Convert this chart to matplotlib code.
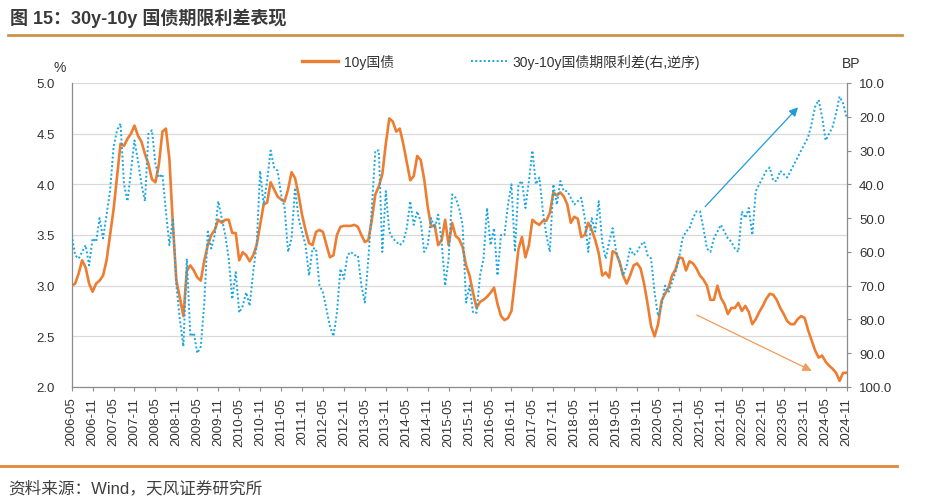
import numpy as np
import pandas as pd
import matplotlib
matplotlib.use("Agg")
import matplotlib.pyplot as plt
from matplotlib.lines import Line2D
from matplotlib.ticker import FormatStrFormatter

plt.rcParams["font.family"] = ["Liberation Sans", "Noto Sans CJK SC"]
plt.rcParams["axes.unicode_minus"] = False

# monthly readings, 2006-05 .. 2024-11
start_month = "2006-05"

# 10y government bond yield (%), left axis
yield_10y = [
    3.00, 3.02, 3.12, 3.25, 3.18, 3.02, 2.94, 3.02,                          # 2006
    3.05, 3.10, 3.25, 3.50, 3.75, 4.08, 4.40, 4.38, 4.45, 4.50, 4.58, 4.48,  # 2007
    4.42, 4.30, 4.20, 4.05, 4.02, 4.20, 4.52, 4.55, 4.25, 3.60, 3.05, 2.88,  # 2008
    2.70, 3.15, 3.20, 3.15, 3.08, 3.05, 3.25, 3.40, 3.50, 3.55, 3.65, 3.62,  # 2009
    3.65, 3.65, 3.52, 3.52, 3.25, 3.33, 3.30, 3.24, 3.30, 3.40, 3.60, 3.80,  # 2010
    3.82, 4.02, 3.95, 3.88, 3.85, 3.83, 3.95, 4.12, 4.06, 3.90, 3.70, 3.55,  # 2011
    3.42, 3.40, 3.53, 3.55, 3.53, 3.40, 3.28, 3.30, 3.50, 3.58, 3.59, 3.59,  # 2012
    3.59, 3.60, 3.58, 3.50, 3.43, 3.45, 3.65, 3.90, 3.98, 4.10, 4.40, 4.65,  # 2013
    4.62, 4.52, 4.55, 4.40, 4.22, 4.04, 4.08, 4.28, 4.24, 4.05, 3.78, 3.58,  # 2014
    3.60, 3.40, 3.45, 3.65, 3.40, 3.62, 3.49, 3.46, 3.38, 3.20, 3.10, 2.93,  # 2015
    2.78, 2.84, 2.86, 2.89, 2.93, 2.98, 2.82, 2.70, 2.66, 2.68, 2.75, 3.05,  # 2016
    3.36, 3.48, 3.28, 3.40, 3.65, 3.62, 3.60, 3.64, 3.64, 3.72, 3.92, 3.89,  # 2017
    3.92, 3.88, 3.80, 3.62, 3.68, 3.66, 3.48, 3.50, 3.62, 3.55, 3.45, 3.32,  # 2018
    3.10, 3.13, 3.08, 3.34, 3.32, 3.23, 3.10, 3.02, 3.10, 3.20, 3.22, 3.17,  # 2019
    3.02, 2.82, 2.60, 2.50, 2.62, 2.85, 2.92, 2.98, 3.10, 3.16, 3.28, 3.27,  # 2020
    3.15, 3.24, 3.22, 3.17, 3.10, 3.06, 3.00, 2.86, 2.86, 3.00, 2.88, 2.82,  # 2021
    2.72, 2.78, 2.78, 2.83, 2.75, 2.80, 2.74, 2.62, 2.67, 2.74, 2.80, 2.87,  # 2022
    2.92, 2.91, 2.86, 2.78, 2.72, 2.65, 2.62, 2.62, 2.67, 2.70, 2.68, 2.56,  # 2023
    2.46, 2.36, 2.29, 2.31, 2.25, 2.21, 2.18, 2.14, 2.06, 2.14, 2.14,        # 2024
]

# 30y-10y term spread (BP), right axis, inverted
spread_30_10 = [
    55, 61, 62, 60, 58, 64, 56, 57,                  # 2006
    50, 56, 49, 42, 29, 24, 22, 40, 45, 36, 27, 33,  # 2007
    40, 45, 25, 24, 34, 38, 37, 48, 58, 50, 70, 80,  # 2008
    88, 62, 85, 84, 90, 88, 75, 54, 59, 55, 45, 50,  # 2009
    55, 62, 74, 66, 78, 76, 72, 76, 66, 58, 36, 46,  # 2010
    39, 30, 35, 36, 43, 47, 60, 56, 41, 50, 54, 58,  # 2011
    67, 59, 59, 70, 72, 77, 82, 85, 78, 65, 68, 61,  # 2012
    60, 61, 61, 70, 75, 62, 47, 30, 30, 60, 42, 54,  # 2013
    56, 57, 58, 57, 53, 45, 52, 48, 51, 60, 58, 50,  # 2014
    53, 49, 57, 70, 62, 43, 44, 47, 52, 75, 70, 78,  # 2015
    78, 67, 62, 47, 58, 53, 67, 55, 55, 46, 40, 60,  # 2016
    40, 39, 47, 39, 30, 40, 38, 48, 55, 60, 40, 46,  # 2017
    39, 42, 42, 44, 46, 45, 44, 50, 60, 50, 54, 45,  # 2018
    57, 62, 57, 53, 60, 63, 67, 64, 59, 61, 60, 58,  # 2019
    57, 61, 62, 72, 79, 76, 70, 72, 69, 66, 62, 56,  # 2020
    54, 53, 50, 48, 48, 53, 59, 60, 56, 54, 52, 54,  # 2021
    56, 57, 59, 60, 48, 50, 47, 55, 42, 40, 38, 36,  # 2022
    35, 39, 39, 36, 37, 38, 36, 34, 32, 30, 28, 26,  # 2023
    22, 17, 15, 20, 27, 25, 23, 19, 14, 16, 20,      # 2024
]

legend_labels = ["10y国债", "30y-10y国债期限利差(右,逆序)"]

ORANGE = "#ED7D31"
BLUE = "#1AA6E0"
GRID = "#D9D9D9"
SPINE = "#8C8C8C"
TEXT = "#333333"

dates = pd.date_range(start_month, periods=len(yield_10y), freq="MS")
x = np.arange(len(dates))
tick_pos = x[::6]
tick_labels = dates[::6].strftime("%Y-%m")

fig = plt.figure(figsize=(9.38, 5.02), dpi=100)
ax = fig.add_axes([0.0764, 0.2271, 0.8261, 0.6056])
ax2 = ax.twinx()

ax.plot(x, yield_10y, color=ORANGE, lw=1.9, solid_joinstyle="round")
ax2.plot(x, spread_30_10, color=BLUE, lw=1.4, ls=(0, (1, 1.2)))

ax.set_xlim(x[0], x[-1])
ax.set_ylim(2.0, 5.0)
ax.set_yticks(np.arange(2.0, 5.01, 0.5))
ax.yaxis.set_major_formatter(FormatStrFormatter("%.1f"))
ax.yaxis.grid(True, color=GRID, lw=0.9)
ax.set_axisbelow(True)
ax.set_xticks(tick_pos)
ax.set_xticklabels(tick_labels, rotation=90)

ax2.set_ylim(100, 10)
ax2.set_yticks(np.arange(10, 101, 10))
ax2.yaxis.set_major_formatter(FormatStrFormatter("%.1f"))

for s in ["top", "right"]:
    ax.spines[s].set_visible(False)
for s in ["top", "left", "bottom"]:
    ax2.spines[s].set_visible(False)
for sp in [ax.spines["left"], ax.spines["bottom"], ax2.spines["right"]]:
    sp.set_color(SPINE)
    sp.set_linewidth(0.9)

ax.tick_params(axis="y", length=0, pad=12, labelsize=9.5, labelcolor=TEXT)
ax.tick_params(axis="x", length=3, width=0.8, color=SPINE, pad=4, labelsize=9.5, labelcolor=TEXT)
ax2.tick_params(axis="y", length=3, width=0.8, color=SPINE, pad=6, labelsize=9.5, labelcolor=TEXT)

# trend arrows
ax.annotate("", xy=(208.1, 4.76), xytext=(181.5, 3.78),
            arrowprops=dict(arrowstyle="-|>", color="#1E9CD8", lw=0.9, mutation_scale=13, shrinkA=0, shrinkB=0))
ax.annotate("", xy=(212.0, 2.16), xytext=(179.1, 2.71),
            arrowprops=dict(arrowstyle="-|>", color="#F19C5A", lw=0.9, mutation_scale=13, shrinkA=0, shrinkB=0))

handles = [Line2D([], [], color=ORANGE, lw=2.4),
           Line2D([], [], color=BLUE, lw=1.4, ls=(0, (1, 1.2)))]
fig.legend(handles, legend_labels, loc="center", bbox_to_anchor=(501 / 938, 1 - 62 / 502), ncol=2,
           frameon=False, fontsize=10, handlelength=2.6, handletextpad=0.4, columnspacing=5.5,
           borderpad=0, borderaxespad=0, labelcolor=TEXT)

fig.text(60 / 938, 1 - 68 / 502, "%", fontsize=10, color=TEXT, ha="center", va="center")
fig.text(851 / 938, 1 - 64 / 502, "BP", fontsize=10, color=TEXT, ha="center", va="center")

fig.text(10 / 938, 1 - 18 / 502, "图 15：30y-10y 国债期限利差表现", fontsize=13, fontweight="bold",
         color="#3A3A3A", va="center")
fig.add_artist(Line2D([8 / 938, 902 / 938], [1 - 36 / 502] * 2, color="#C9944A", lw=2))
fig.add_artist(Line2D([0, 897 / 938], [1 - 467 / 502] * 2, color="#E2873A", lw=2))
fig.text(8 / 938, 1 - 488 / 502, "资料来源：Wind，天风证券研究所", fontsize=12, color="#404040", va="center")

fig.savefig("out.png", dpi=100)
